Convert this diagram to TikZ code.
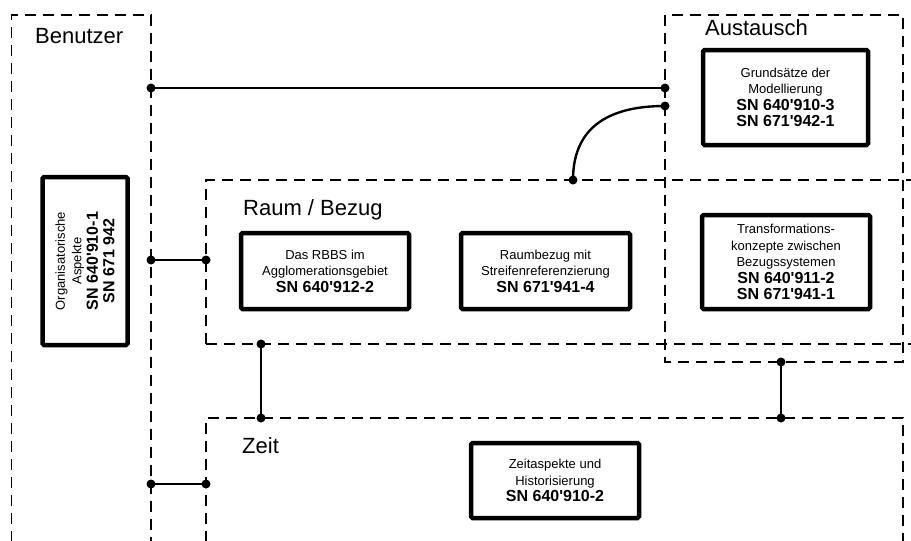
\documentclass[tikz,border=0pt]{standalone}
\usepackage{fontspec}
\setmainfont{Liberation Sans}
\newcommand{\apos}{\textquotesingle}
\tikzset{
  group/.style={draw, line width=1.4pt, dash pattern=on 11pt off 7pt},
  normbox/.style={draw, line width=4.5pt, rounded corners=1.5pt, fill=white,
    align=center, inner sep=0pt, font=\fontsize{13}{16.5}\selectfont},
  grouptitle/.style={anchor=base west, inner sep=0pt, font=\fontsize{22}{26}\selectfont},
  link/.style={line width=2.4pt},
  dot/.style={circle, fill=black, inner sep=0pt, minimum size=9pt},
}
\newcommand{\sn}[1]{{\fontsize{16}{17.5}\selectfont\bfseries #1}}
\begin{document}
\begin{tikzpicture}[x=1pt,y=-1pt]
\useasboundingbox (0,0) rectangle (911,541);
\clip (0,0) rectangle (911,541);

% group frames (dashed)
\draw[group] (11.5,560) -- (11.5,15) -- (151,15) -- (151,560);
\draw[group] (665,15) rectangle (903,362);
\draw[group] (206,344) -- (206,180) -- (930,180);
\draw[group] (206,344) -- (930,344);
\draw[group] (206,560) -- (206,418) -- (903,418) -- (903,560);

% group titles
\node[grouptitle] (tBenutzer) at (35,43) {Benutzer};
\node[grouptitle] (tAustausch) at (705,35) {Austausch};
\node[grouptitle] (tRaum) at (243,215) {Raum / Bezug};
\node[grouptitle] (tZeit) at (242,453) {Zeit};

% standards
\node[normbox, minimum width=168pt, minimum height=85pt, rotate=90] (org) at (85,261)
  {Organisatorische\\Aspekte\\\sn{SN 640\apos910-1}\\\sn{SN 671 942}};
\node[normbox, minimum width=165pt, minimum height=95pt] (grund) at (785.5,97.5)
  {Grundsätze der\\Modellierung\\\sn{SN 640\apos910-3}\\\sn{SN 671\apos942-1}};
\node[normbox, minimum width=168pt, minimum height=76pt] (rbbs) at (325,271)
  {Das RBBS im\\Agglomerationsgebiet\\\sn{SN 640\apos912-2}};
\node[normbox, minimum width=169pt, minimum height=76pt] (raumbezug) at (545.5,271)
  {Raumbezug mit\\Streifenreferenzierung\\\sn{SN 671\apos941-4}};
\node[normbox, minimum width=168pt, minimum height=94pt] (trafo) at (786,262)
  {Transformations-\\konzepte zwischen\\Bezugssystemen\\\sn{SN 640\apos911-2}\\\sn{SN 671\apos941-1}};
\node[normbox, minimum width=168pt, minimum height=75pt] (zeitasp) at (555,480.5)
  {Zeitaspekte und\\Historisierung\\\sn{SN 640\apos910-2}};

% connection points on the frames
\coordinate (bA) at (151,88);
\coordinate (aB) at (665,88);
\coordinate (aR) at (665,106);
\coordinate (rA) at (573,180);
\coordinate (bR) at (151,260);
\coordinate (rB) at (206,260);
\coordinate (rZ) at (261,344);
\coordinate (zR) at (261,418);
\coordinate (aZ) at (781,362);
\coordinate (zA) at (781,418);
\coordinate (bZ) at (151,484);
\coordinate (zB) at (206,484);

% connectors
\draw[link] (bA) -- (aB);
\draw[link] (aR) .. controls (605,106) and (573,130) .. (rA);
\draw[link] (bR) -- (rB);
\draw[link] (rZ) -- (zR);
\draw[link] (aZ) -- (zA);
\draw[link] (bZ) -- (zB);

\foreach \p in {bA,aB,aR,rA,bR,rB,rZ,zR,aZ,zA,bZ,zB}
  \node[dot] at (\p) {};
\end{tikzpicture}
\end{document}
